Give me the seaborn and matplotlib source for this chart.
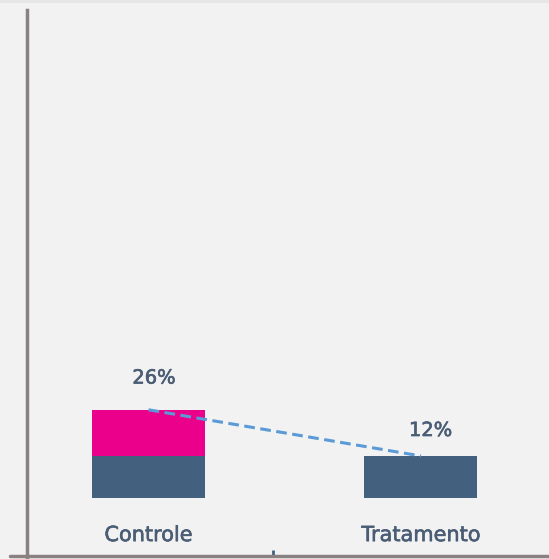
import matplotlib
matplotlib.use("Agg")
import matplotlib.pyplot as plt
import matplotlib.patheffects as pe
from matplotlib.lines import Line2D
from matplotlib.patches import Rectangle
import pandas as pd
import seaborn as sns

# data
groups = ["Controle", "Tratamento"]
base_pct = [12, 12]
extra_pct = [13.2, 0]
pct_labels = ["26%", "12%"]

BLUE = "#44607f"
MAGENTA = "#ea008a"
LINE = "#5a9ad8"
TEXT = "#4a5d75"
AXIS = "#8a8282"
BG = "#f2f2f2"

df = pd.DataFrame({"grupo": groups, "base": base_pct, "extra": extra_pct})
df["total"] = df["base"] + df["extra"]

sns.set_theme(style="white")
plt.rcParams["font.family"] = ["DejaVu Sans"]
bold = [pe.withStroke(linewidth=0.45, foreground=TEXT)]

fig = plt.figure(figsize=(5.49, 5.59), dpi=100)
fig.patch.set_facecolor(BG)
fig.patches.append(Rectangle((0, 1 - 3 / 559), 1, 3 / 559, transform=fig.transFigure,
                             facecolor="#e6e6e6", edgecolor="none"))
ax = fig.add_axes([27 / 549, 3 / 559, 1 - 27 / 549, (556 - 10) / 559])
ax.set_facecolor(BG)

bw = 0.415
sns.barplot(data=df, x="grupo", y="total", color=MAGENTA, width=bw,
            saturation=1, linewidth=0, ax=ax, zorder=2)
sns.barplot(data=df, x="grupo", y="base", color=BLUE, width=bw,
            saturation=1, linewidth=0, ax=ax, zorder=3)

xs = list(range(len(groups)))
ax.plot(xs, df["total"], color=LINE, linestyle=(0, (3.5, 1.8)), linewidth=2.2, zorder=4)

offsets = [(4, 16), (7, 11.5)]
for x, v, lab, off in zip(xs, df["total"], pct_labels, offsets):
    ax.annotate(lab, (x, v), xytext=off, textcoords="offset points",
                ha="center", va="bottom", fontsize=14, color=TEXT, path_effects=bold)
for x, g in zip(xs, groups):
    ax.text(x, -10.6, g, ha="center", va="center", fontsize=15, color=TEXT,
            path_effects=bold)

ax.set_xlim(-0.446, 1.47)
ax.set_ylim(-16.57, 139.4)
ax.set_xlabel("")
ax.set_ylabel("")
ax.set_yticks([])
ax.set_xticks([0.457])
ax.set_xticklabels([""])
ax.tick_params(axis="x", direction="in", length=4, width=2, color=BLUE, bottom=True)

for side in ["top", "right"]:
    ax.spines[side].set_visible(False)
for side in ["left", "bottom"]:
    ax.spines[side].set_color(AXIS)
    ax.spines[side].set_linewidth(2.5)

# axis lines run a little past the corner, as in the original
fig.add_artist(Line2D([10 / 549, 28 / 549], [3 / 559, 3 / 559], color=AXIS, lw=2.5))
fig.add_artist(Line2D([27 / 549, 27 / 549], [0, 4 / 559], color=AXIS, lw=2.5))

fig.savefig("out.png", dpi=100, facecolor=BG)
